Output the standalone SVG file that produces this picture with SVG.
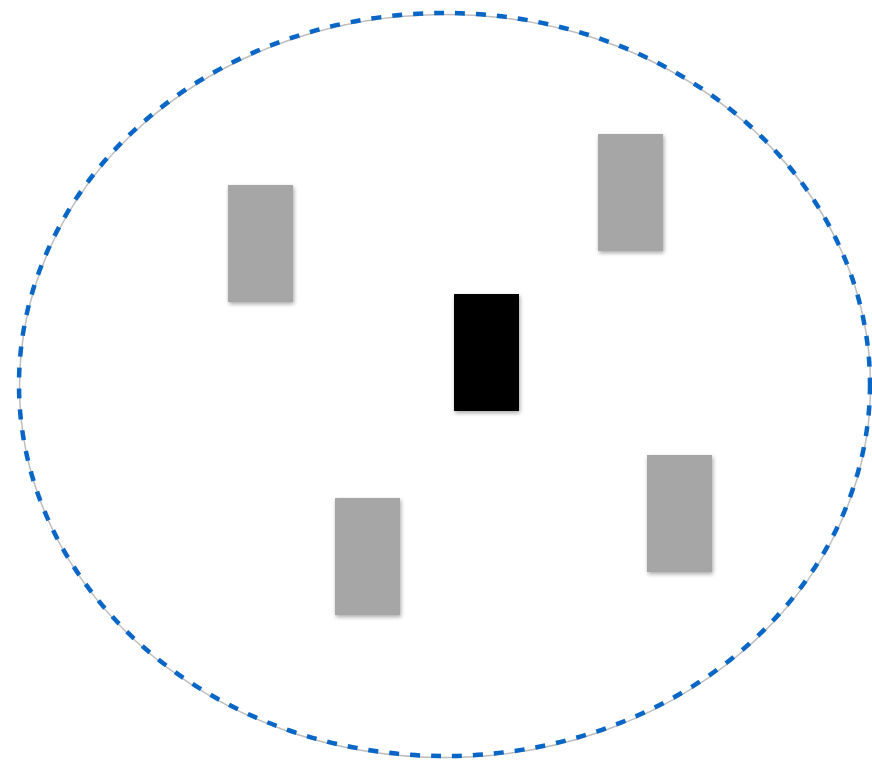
<svg xmlns="http://www.w3.org/2000/svg" width="872" height="760" viewBox="0 0 872 760">
  <defs>
    <filter id="sh" x="-20%" y="-20%" width="150%" height="150%">
      <feGaussianBlur in="SourceAlpha" stdDeviation="2"/>
      <feOffset dx="1" dy="2" result="b"/>
      <feComponentTransfer><feFuncA type="linear" slope="0.35"/></feComponentTransfer>
      <feMerge><feMergeNode/><feMergeNode in="SourceGraphic"/></feMerge>
    </filter>
    <style>
      .box { fill: #A6A6A6; filter: url(#sh); }
      .dark { fill: #000000; filter: url(#sh); }
      .ring { fill: none; stroke: #0866C6; stroke-width: 4.5; stroke-dasharray: 10 11; }
      .ringshadow { fill: none; stroke: #BDBDBD; stroke-width: 1.5; }
    </style>
  </defs>
  <rect width="872" height="760" fill="#FFFFFF"/>
  <g id="boundary">
    <ellipse class="ringshadow" cx="445" cy="386" rx="425.5" ry="371.5"/>
    <ellipse class="ring" cx="444.5" cy="384.5" rx="425.5" ry="371.5"/>
  </g>
  <g id="node-top-left"><rect class="box" x="228" y="185" width="65" height="117"/></g>
  <g id="node-top-right"><rect class="box" x="598" y="134" width="65" height="117"/></g>
  <g id="node-center"><rect class="dark" x="454" y="294" width="65" height="117"/></g>
  <g id="node-bottom-left"><rect class="box" x="335" y="498" width="65" height="117"/></g>
  <g id="node-bottom-right"><rect class="box" x="647" y="455" width="65" height="117"/></g>
  <g id="connectors"></g>
</svg>
